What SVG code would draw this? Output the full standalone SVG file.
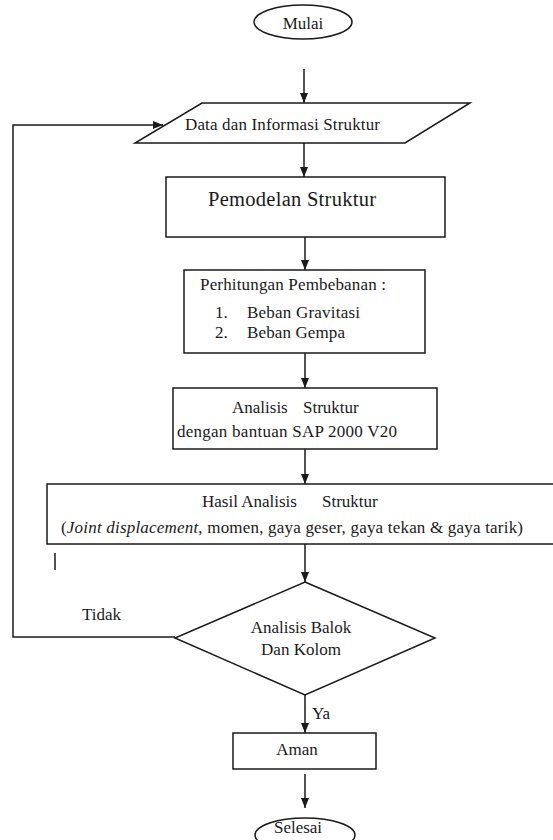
<svg xmlns="http://www.w3.org/2000/svg" width="553" height="840" viewBox="0 0 553 840" font-family="'Liberation Serif', 'Times New Roman', 'DejaVu Serif', serif" font-size="17">
<style>
.s{fill:#fff;stroke:#1a1a1a;stroke-width:1.5}
.c{fill:none;stroke:#1a1a1a;stroke-width:1.5}
.t{font-family:'Liberation Serif','Times New Roman','DejaVu Serif',serif;font-size:17px;fill:#1a1a1a}
.big{font-size:20.5px}
</style>
<defs>
<marker id="ah" markerUnits="userSpaceOnUse" markerWidth="10" markerHeight="10" viewBox="0 0 10 10" refX="10" refY="5" orient="auto">
<path d="M0,1 L10,5 L0,9 Z" fill="#1a1a1a"/>
</marker>
</defs>
<rect width="553" height="840" fill="#fff"/>
<g id="connectors">
<line class="c" x1="304" y1="69" x2="304" y2="103" marker-end="url(#ah)"/>
<line class="c" x1="304" y1="143" x2="304" y2="177" marker-end="url(#ah)"/>
<line class="c" x1="305" y1="237" x2="305" y2="270" marker-end="url(#ah)"/>
<line class="c" x1="305" y1="353" x2="305" y2="388" marker-end="url(#ah)"/>
<line class="c" x1="305" y1="449" x2="305" y2="484" marker-end="url(#ah)"/>
<line class="c" x1="305" y1="544" x2="305" y2="582" marker-end="url(#ah)"/>
<line class="c" x1="305" y1="695" x2="305" y2="733" marker-end="url(#ah)"/>
<line class="c" x1="305" y1="774" x2="305" y2="808" marker-end="url(#ah)"/>
<polyline class="c" points="175,637 13,637 13,125 163,125" marker-end="url(#ah)"/>
<line class="c" x1="55" y1="553" x2="55" y2="570"/>
<text class="t" x="82" y="620">Tidak</text>
<text class="t" x="312" y="719">Ya</text>
</g>
<g id="mulai">
<ellipse class="s" cx="303" cy="22" rx="49" ry="17"/>
<text class="t" x="303" y="29" text-anchor="middle">Mulai</text>
</g>
<g id="data">
<polygon class="s" points="202,103 470,103 405,143 135,143"/>
<text class="t" x="185" y="130" textLength="195">Data dan Informasi Struktur</text>
</g>
<g id="pemodelan">
<rect class="s" x="166" y="177" width="279" height="60"/>
<text class="t big" x="208" y="206" textLength="168">Pemodelan Struktur</text>
</g>
<g id="perhitungan">
<rect class="s" x="184" y="270" width="241" height="83"/>
<text class="t" x="200" y="290" textLength="186">Perhitungan Pembebanan :</text>
<text class="t" x="215" y="318">1.</text>
<text class="t" x="247" y="318" textLength="113">Beban Gravitasi</text>
<text class="t" x="215" y="338">2.</text>
<text class="t" x="247" y="338" textLength="98">Beban Gempa</text>
</g>
<g id="analisis">
<rect class="s" x="173" y="388" width="264" height="61"/>
<text class="t" x="232" y="413">Analisis</text>
<text class="t" x="303" y="413">Struktur</text>
<text class="t" x="177" y="437" textLength="220">dengan bantuan SAP 2000 V20</text>
</g>
<g id="hasil">
<rect class="s" x="47" y="484" width="515" height="60"/>
<text class="t" x="202" y="507">Hasil Analisis</text>
<text class="t" x="322" y="507">Struktur</text>
<text class="t" x="61" y="533" textLength="462">(<tspan font-style="italic">Joint displacement</tspan>, momen, gaya geser, gaya tekan &amp; gaya tarik)</text>
</g>
<g id="keputusan">
<polygon class="s" points="305,582 435,638 305,695 175,638"/>
<text class="t" x="301" y="633" text-anchor="middle">Analisis Balok</text>
<text class="t" x="301" y="655" text-anchor="middle">Dan Kolom</text>
</g>
<g id="aman">
<rect class="s" x="233" y="733" width="143" height="36"/>
<text class="t" x="297" y="755" text-anchor="middle">Aman</text>
</g>
<g id="selesai">
<ellipse class="s" cx="305" cy="835" rx="50" ry="17"/>
<text class="t" x="298" y="833" text-anchor="middle">Selesai</text>
</g>
</svg>
